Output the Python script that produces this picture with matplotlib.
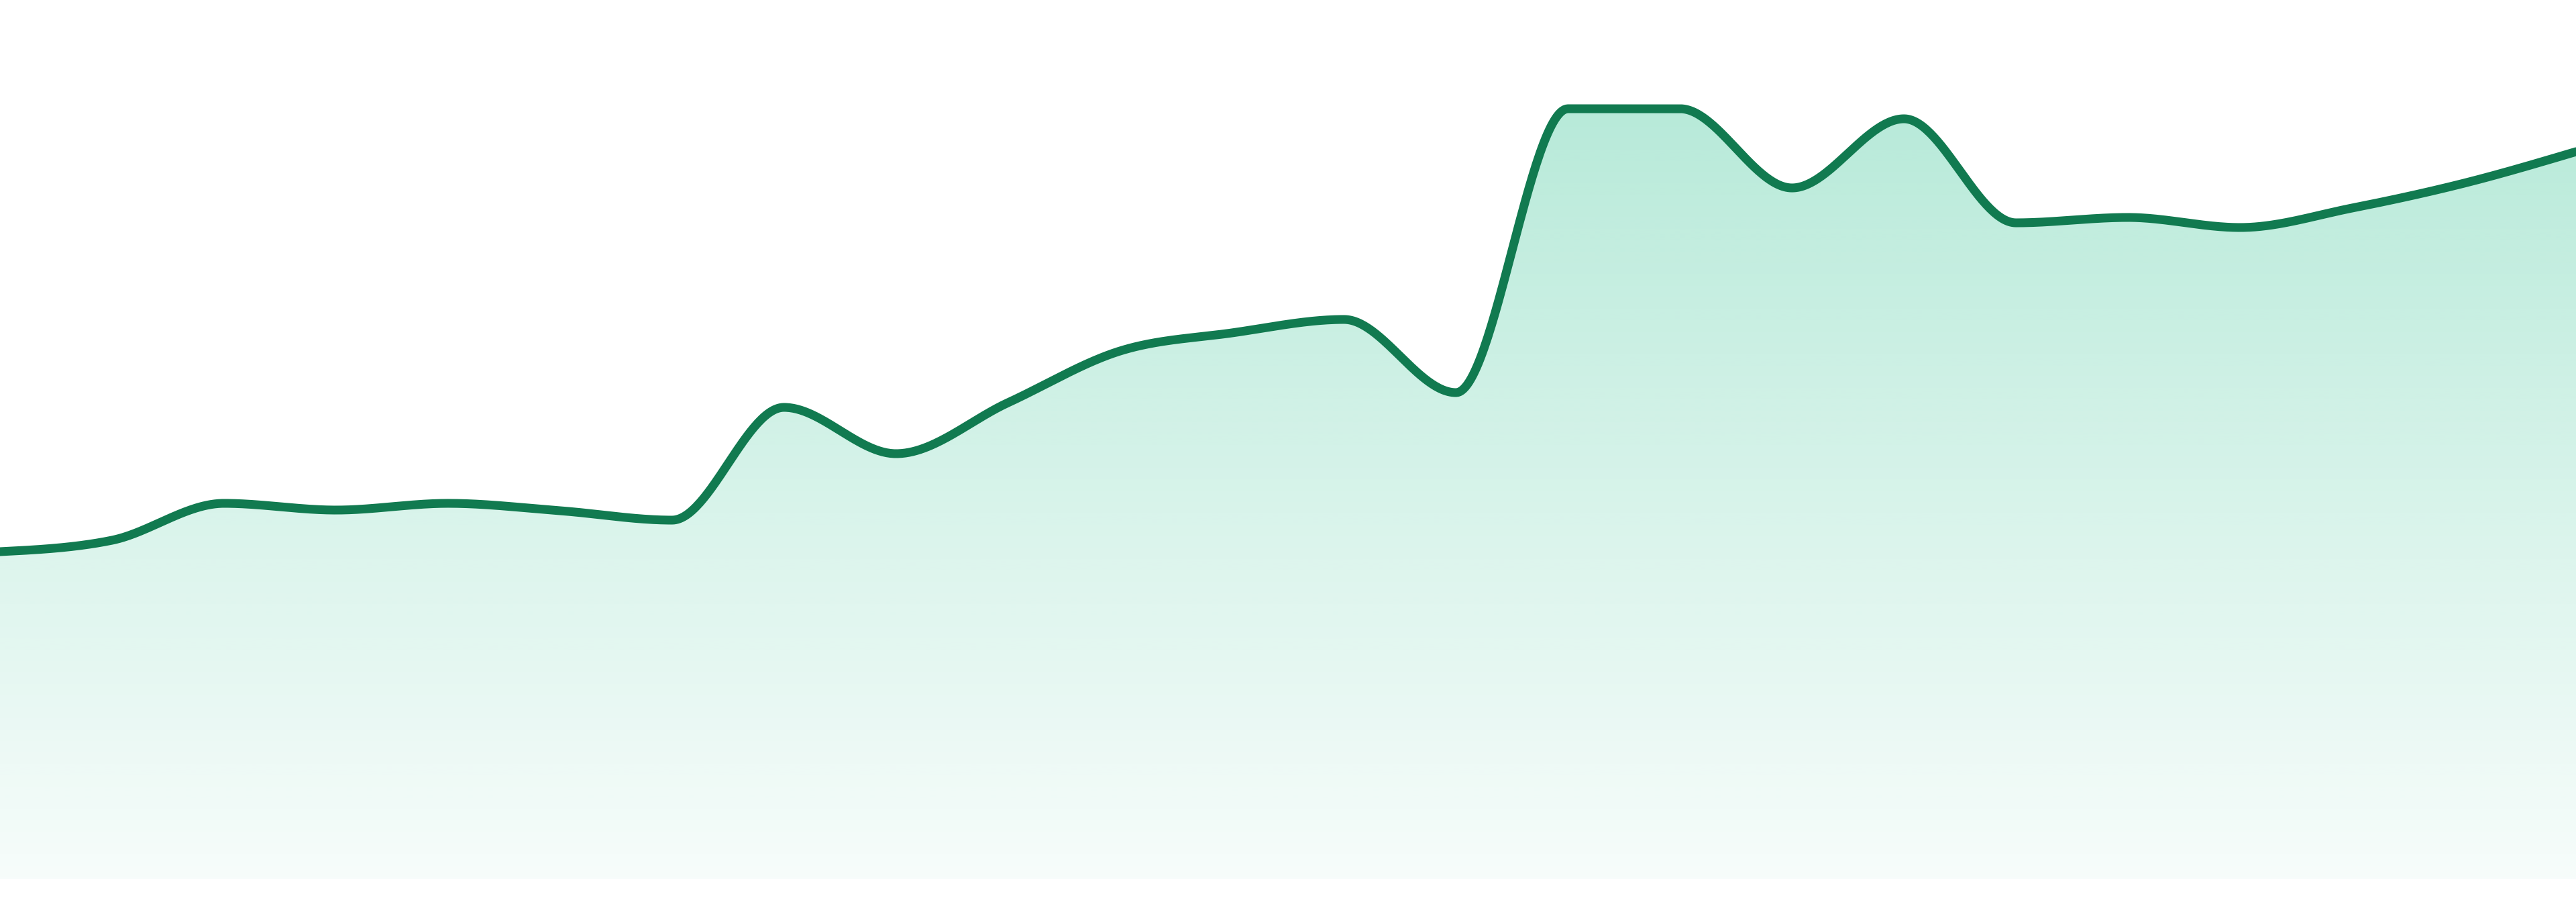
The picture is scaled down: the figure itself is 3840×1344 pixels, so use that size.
import numpy as np
import matplotlib
matplotlib.use("Agg")
import matplotlib.pyplot as plt
from matplotlib.patches import Polygon

# ---- data ----
x_index = list(range(24))
values = [488, 505, 560, 550, 560, 549, 535, 703, 634, 710, 787, 814,
          834, 725, 1148, 1148, 1030, 1133, 978, 986, 971, 1000, 1037, 1084]

LINE_COLOR = "#117a50"
FILL_RGB = (16 / 255, 185 / 255, 129 / 255)


def monotone_x(xs, ys, n=60):
    """d3 curveMonotoneX style interpolation."""
    xs = np.asarray(xs, float)
    ys = np.asarray(ys, float)
    k = len(xs)
    h = np.diff(xs)
    s = np.diff(ys) / h
    t = np.zeros(k)
    for i in range(1, k - 1):
        s0, s1 = s[i - 1], s[i]
        h0, h1 = h[i - 1], h[i]
        p = (s0 * h1 + s1 * h0) / (h0 + h1)
        t[i] = (np.sign(s0) + np.sign(s1)) * min(abs(s0), abs(s1), 0.5 * abs(p))
    t[0] = (3 * (ys[1] - ys[0]) / h[0] - t[1]) / 2
    t[-1] = (3 * (ys[-1] - ys[-2]) / h[-1] - t[-2]) / 2
    out_x, out_y = [], []
    for i in range(k - 1):
        u = np.linspace(0, 1, n, endpoint=(i == k - 2))
        hh = h[i]
        h00 = 2 * u**3 - 3 * u**2 + 1
        h10 = u**3 - 2 * u**2 + u
        h01 = -2 * u**3 + 3 * u**2
        h11 = u**3 - u**2
        out_x.append(xs[i] + u * hh)
        out_y.append(h00 * ys[i] + h10 * hh * t[i] + h01 * ys[i + 1] + h11 * hh * t[i + 1])
    return np.concatenate(out_x), np.concatenate(out_y)


fig = plt.figure(figsize=(38.4, 13.44), dpi=100)
ax = fig.add_axes([0, 0, 1, 1])
ax.set_xlim(0, 23)
ax.set_ylim(-34, 1310)
ax.axis("off")

cx, cy = monotone_x(x_index, values)

# gradient fill clipped to area under curve
top = max(values)
ny = 400
rows = np.linspace(1310, -34, ny)
alpha = np.clip(0.035 + (0.30 - 0.035) * rows / top, 0.035, 0.32)
img = np.zeros((ny, 2, 4))
img[..., 0] = FILL_RGB[0]
img[..., 1] = FILL_RGB[1]
img[..., 2] = FILL_RGB[2]
img[..., 3] = alpha[:, None]
im = ax.imshow(img, extent=[0, 23, -34, 1310], aspect="auto", origin="upper",
               interpolation="bilinear", zorder=1)
poly_xy = np.column_stack([np.r_[cx, cx[-1], cx[0]], np.r_[cy, 0, 0]])
clip = Polygon(poly_xy, closed=True, facecolor="none", edgecolor="none",
               transform=ax.transData)
ax.add_patch(clip)
im.set_clip_path(clip)

ax.plot(cx, cy, color=LINE_COLOR, linewidth=9.4, solid_capstyle="round",
        solid_joinstyle="round", zorder=3)

fig.savefig("out.png", dpi=100, facecolor="white")
